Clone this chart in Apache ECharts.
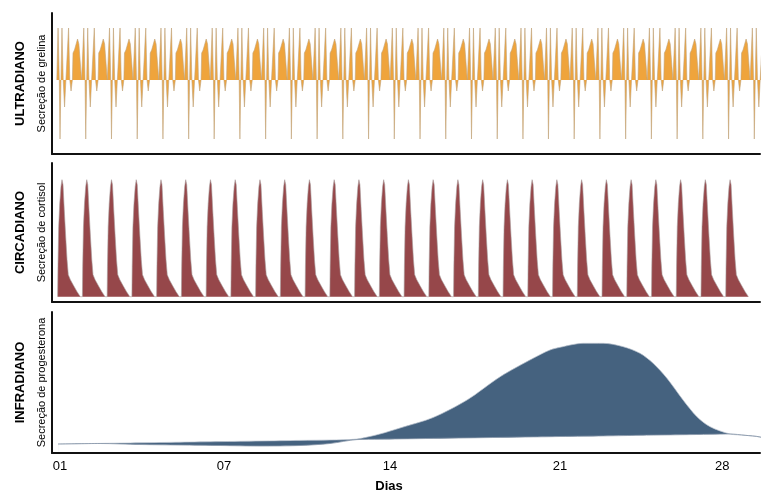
<!DOCTYPE html>
<html>
<head>
<meta charset="utf-8">
<script src="https://cdn.jsdelivr.net/npm/echarts@6/dist/echarts.min.js"></script>
<style>
html, body { margin: 0; padding: 0; background: #fff; }
#chart { width: 779px; height: 501px; }
</style>
</head>
<body>
<div id="chart"></div>
<script>
// eixo x em dias
var tickLabels = ['01', '07', '14', '21', '28'];
var tickDays = [0.92, 7.55, 14.26, 21.13, 27.68];

// ULTRADIANO - grelina: inicio de cada ciclo (dias) + forma de um ciclo (horas, valor)
var ultraCycleDays = [0.92, 1.96, 3.00, 4.04, 5.08, 6.12, 7.15, 8.19, 9.23, 10.27, 11.31, 12.35, 13.39, 14.43,
    15.47, 16.51, 17.55, 18.59, 19.63, 20.66, 21.70, 22.74, 23.78, 24.82, 25.86, 26.90, 27.94, 28.98];
var ultraHours = [-3.1, -1.9, -0.7, 0, 0.9, 1.9, 3.1, 4.4, 5.7, 7.1, 8.3, 9.5, 10.7, 12.0, 12.5, 12.6, 14.0, 17.0, 18.3, 20.9];
var ultraValues = [0, 52, 0, -59, 0, 52, 0, -27, 0, 0, 52, 0, -11, 0, 0, 27, 30, 41, 36, 0];

// CIRCADIANO - cortisol: pico diario + forma de um pico (horas, valor)
var circPeakDays = [1, 2, 3, 4, 5, 6, 7, 8, 9, 10, 11, 12, 13, 14, 15, 16, 17, 18, 19, 20, 21, 22, 23, 24, 25, 26, 27, 28];
var circHours = [-4.2, -3.9, -3.2, -2.2, -1.0, 0, 1.0, 2.2, 3.6, 4.9, 6.1, 8.1, 11.3, 14.6, 17.8];
var circValues = [0, 30, 70, 93, 110, 117, 112, 87, 60, 37, 22, 17, 11, 5, 0];

// INFRADIANO - progesterona (curva) e linha de base
var infraDays = [0.84, 2.54, 4.15, 5.77, 7.39, 9.0, 10.62, 11.83, 12.92, 13.85, 14.66, 16.0, 17.37, 18.71, 20.04,
    20.72, 21.13, 22.06, 22.87, 23.68, 24.36, 24.89, 25.45, 26.1, 26.66, 27.19, 28.0, 28.61, 29.21, 29.98];
var infraCurve = [9, 9.5, 8.5, 8, 7.5, 7, 7.5, 9.5, 14, 19, 25, 35.5, 53, 76.3, 94.7,
    103, 105.7, 109.7, 109.7, 106.3, 99.7, 89.7, 74.7, 53, 36.3, 26.3, 19, 17.7, 16, 10];
var infraBase = [9, 9.6, 10.2, 10.8, 11.4, 12, 12.6, 13, 13.4, 13.8, 14.1, 14.6, 15.1, 15.6, 16.1,
    16.3, 16.5, 16.8, 17.1, 17.4, 17.7, 17.9, 18.1, 18.3, 18.5, 18.7, 19, 17.7, 16, 10];

function buildCycles(starts, hours, values) {
    var out = [];
    for (let i = 0; i < starts.length; i++) {
        for (let j = 0; j < hours.length; j++) {
            out.push([starts[i] + hours[j] / 24, values[j]]);
        }
    }
    return out;
}

var ultraData = buildCycles(ultraCycleDays, ultraHours, ultraValues);
var circData = buildCycles(circPeakDays, circHours, circValues);
// faixa entre as duas curvas: limite de cima (azul) e de baixo (branco)
var upperData = [];
var lowerData = [];
for (let i = 0; i < infraDays.length; i++) {
    upperData.push([infraDays[i], Math.max(infraCurve[i], infraBase[i])]);
    lowerData.push([infraDays[i], Math.min(infraCurve[i], infraBase[i])]);
}

var axisLine = { show: true, onZero: false, lineStyle: { color: '#111', width: 2 } };
var nameRich = {
    t: { fontSize: 13, fontWeight: 'bold', color: '#000', lineHeight: 26, fontFamily: 'Liberation Sans' },
    s: { fontSize: 11, color: '#000', lineHeight: 18, fontFamily: 'Liberation Sans' }
};

function makeX(idx, last) {
    return {
        type: 'value', gridIndex: idx, min: 0.596, max: 29.21, z: 5,
        axisLine: axisLine, axisTick: { show: false }, splitLine: { show: false },
        axisLabel: last ? {
            show: true, customValues: tickDays, margin: 7, color: '#000', fontSize: 13,
            fontFamily: 'Liberation Sans',
            formatter: function (v) { return tickLabels[tickDays.indexOf(v)]; }
        } : { show: false },
        name: last ? 'Dias' : '', nameLocation: 'middle', nameGap: 27,
        nameTextStyle: { fontWeight: 'bold', fontSize: 13, color: '#000', fontFamily: 'Liberation Sans', padding: [0, 34, 0, 0] }
    };
}
function makeY(idx, min, max, title, sub) {
    return {
        type: 'value', gridIndex: idx, min: min, max: max, z: 5,
        axisLine: axisLine, axisTick: { show: false }, splitLine: { show: false }, axisLabel: { show: false },
        name: '{t|' + title + '}\n{s|' + sub + '}', nameLocation: 'middle', nameRotate: 90, nameGap: 1,
        nameTextStyle: { rich: nameRich, align: 'center' }
    };
}

var chart = echarts.init(document.getElementById('chart'));
chart.setOption({
    animation: false,
    textStyle: { fontFamily: 'Liberation Sans' },
    grid: [
        { left: 52, right: 19, top: 13, height: 141 },
        { left: 52, right: 19, top: 163, height: 139 },
        { left: 52, right: 19, top: 312, height: 141 }
    ],
    xAxis: [makeX(0, false), makeX(1, false), makeX(2, true)],
    yAxis: [
        makeY(0, -74, 67, 'ULTRADIANO', 'Secreção de grelina'),
        makeY(1, -5.3, 133.7, 'CIRCADIANO', 'Secreção de cortisol'),
        makeY(2, 0, 141, 'INFRADIANO', 'Secreção de progesterona')
    ],
    series: [
        {
            type: 'line', xAxisIndex: 0, yAxisIndex: 0, data: ultraData, showSymbol: false, clip: false,
            lineStyle: { color: '#c0a27a', width: 0.6 }, areaStyle: { color: '#efa43c', opacity: 1 }
        },
        {
            type: 'line', xAxisIndex: 1, yAxisIndex: 1, data: circData, showSymbol: false,
            lineStyle: { color: '#a89a9a', width: 0.6 }, areaStyle: { color: '#96474a', opacity: 1 }
        },
        {
            type: 'line', xAxisIndex: 2, yAxisIndex: 2, data: upperData, showSymbol: false, clip: false,
            smooth: 0.3, lineStyle: { color: '#b9c2cd', width: 0.7 },
            areaStyle: { color: '#45627f', opacity: 1, origin: 'start' }
        },
        {
            type: 'line', xAxisIndex: 2, yAxisIndex: 2, data: lowerData, showSymbol: false, clip: false,
            smooth: 0.3, lineStyle: { color: '#8796a8', width: 0.8 },
            areaStyle: { color: '#ffffff', opacity: 1, origin: 'start' }
        }
    ]
});
</script>
</body>
</html>
